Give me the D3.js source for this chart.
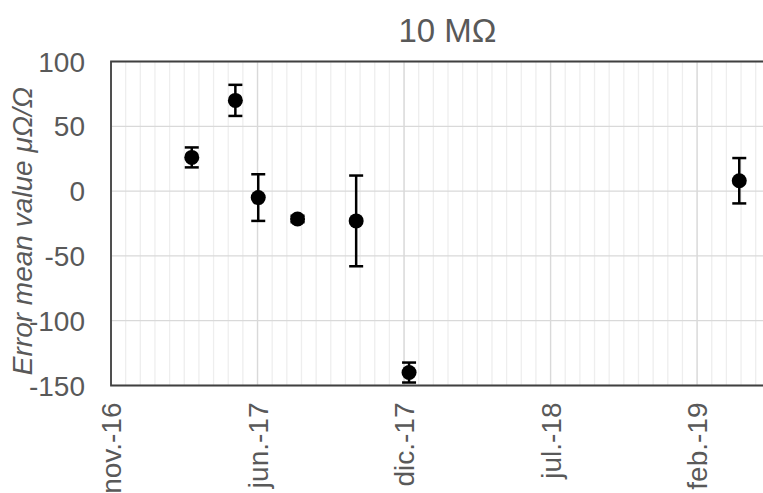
<!DOCTYPE html>
<html>
<head>
<meta charset="utf-8">
<script src="https://cdn.jsdelivr.net/npm/d3@7"></script>
<style>
  body { margin: 0; background: #fff; }
  text { font-family: "Liberation Sans", Arial, sans-serif; fill: #595959; }
</style>
</head>
<body>
<div id="chart"></div>
<script>
// measurement dates, mean error and half-width of error bar (µΩ/Ω)
var dates = ["2017-03-01", "2017-05-01", "2017-06-02", "2017-07-27", "2017-10-17", "2017-12-30", "2019-04-06"];
var values = [26, 70, -5, -21.5, -23, -140, 8];
var errors = [7.7, 12, 18, 2.5, 35, 7.7, 17.5];

// axis settings (date axis in days, Excel style)
var axisStart = "2016-11-08";
var axisDays = 915;
var majorDays = 205;
var minorDays = 20.5;
var yTicks = [-150, -100, -50, 0, 50, 100];
var monthNames = ["ene.", "feb.", "mar.", "abr.", "may.", "jun.", "jul.", "ago.", "sep.", "oct.", "nov.", "dic."];

var width = 763, height = 493;
var margin = { left: 111, top: 61.5, right: -2, bottom: 107.5 };

var svg = d3.select('#chart')
    .append('svg')
    .attr('width', width)
    .attr('height', height);

var parse = d3.utcParse("%Y-%m-%d");
var start = parse(axisStart);
var dayMs = 864e5;

var x = d3.scaleUtc()
    .domain([start, new Date(+start + axisDays * dayMs)])
    .range([margin.left, width - margin.right]);

var y = d3.scaleLinear()
    .domain([-150, 100])
    .range([height - margin.bottom, margin.top]);

var minorDates = d3.range(0, axisDays, minorDays).map(d => new Date(+start + d * dayMs));
var majorDates = d3.range(0, axisDays, majorDays).map(d => new Date(+start + d * dayMs));

// minor vertical gridlines
svg.selectAll('.minor')
    .data(minorDates)
    .enter()
    .append('line')
    .attr('x1', d => x(d)).attr('x2', d => x(d))
    .attr('y1', y(100)).attr('y2', y(-150))
    .style('stroke', '#eeeeee')
    .style('stroke-width', 1.3);

// major vertical gridlines
svg.selectAll('.major')
    .data(majorDates)
    .enter()
    .append('line')
    .attr('x1', d => x(d)).attr('x2', d => x(d))
    .attr('y1', y(100)).attr('y2', y(-150))
    .style('stroke', '#d9d9d9')
    .style('stroke-width', 1.3);

// horizontal gridlines
svg.selectAll('.hgrid')
    .data(yTicks)
    .enter()
    .append('line')
    .attr('x1', x.range()[0]).attr('x2', x.range()[1])
    .attr('y1', d => y(d)).attr('y2', d => y(d))
    .style('stroke', '#d9d9d9')
    .style('stroke-width', 1.3);

// plot area border (top, left, bottom)
var border = d3.path();
border.moveTo(x.range()[1], y(100));
border.lineTo(x.range()[0], y(100));
border.lineTo(x.range()[0], y(-150));
border.lineTo(x.range()[1], y(-150));
svg.append('path')
    .attr('d', border.toString())
    .style('fill', 'none')
    .style('stroke', '#404040')
    .style('stroke-width', 1.8);

// y tick labels
svg.selectAll('.ylab')
    .data(yTicks)
    .enter()
    .append('text')
    .attr('x', 85)
    .attr('y', d => y(d))
    .attr('dy', '0.36em')
    .attr('text-anchor', 'end')
    .style('font-size', '28px')
    .text(d => d);

// x tick labels, rotated
svg.selectAll('.xlab')
    .data(majorDates)
    .enter()
    .append('text')
    .attr('transform', d => 'translate(' + x(d) + ',' + (y(-150) + 17) + ') rotate(-90)')
    .attr('dy', '0.36em')
    .attr('text-anchor', 'end')
    .style('font-size', '28px')
    .text(d => monthNames[d.getUTCMonth()] + '-' + d3.utcFormat('%y')(d));

// title
svg.append('text')
    .attr('x', 447.5)
    .attr('y', 42)
    .attr('text-anchor', 'middle')
    .style('font-size', '33px')
    .text('10 MΩ');

// y axis title
svg.append('text')
    .attr('transform', 'translate(32,231) rotate(-90)')
    .attr('text-anchor', 'middle')
    .style('font-size', '28px')
    .style('font-style', 'italic')
    .text('Error mean value μΩ/Ω');

var points = dates.map((d, i) => ({ date: parse(d), value: values[i], err: errors[i] }));

// error bars
var capHalf = 7;
var bars = svg.selectAll('.err')
    .data(points)
    .enter()
    .append('g');

bars.append('line')
    .attr('x1', d => x(d.date)).attr('x2', d => x(d.date))
    .attr('y1', d => y(d.value + d.err)).attr('y2', d => y(d.value - d.err));
bars.append('line')
    .attr('x1', d => x(d.date) - capHalf).attr('x2', d => x(d.date) + capHalf)
    .attr('y1', d => y(d.value + d.err)).attr('y2', d => y(d.value + d.err));
bars.append('line')
    .attr('x1', d => x(d.date) - capHalf).attr('x2', d => x(d.date) + capHalf)
    .attr('y1', d => y(d.value - d.err)).attr('y2', d => y(d.value - d.err));
bars.selectAll('line')
    .style('stroke', '#000')
    .style('stroke-width', 2.5);

// markers
svg.selectAll('.dot')
    .data(points)
    .enter()
    .append('circle')
    .attr('cx', d => x(d.date))
    .attr('cy', d => y(d.value))
    .attr('r', 7.5)
    .style('fill', '#000');
</script>
</body>
</html>
